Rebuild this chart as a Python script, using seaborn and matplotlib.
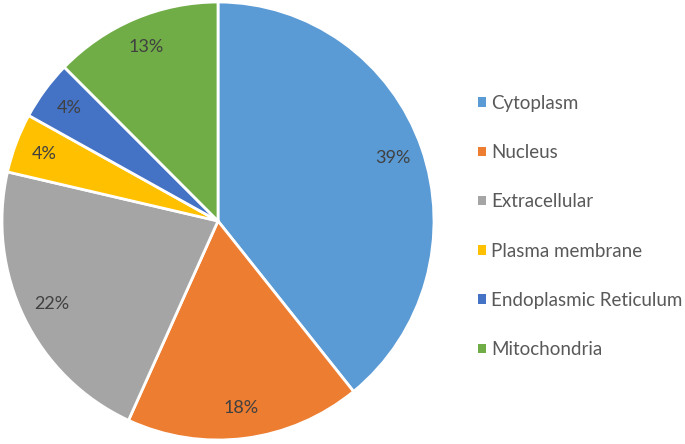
import seaborn as sns
import matplotlib.pyplot as plt
from matplotlib.patches import Patch

locations = ["Cytoplasm", "Nucleus", "Extracellular", "Plasma membrane",
             "Endoplasmic Reticulum", "Mitochondria"]
# shares; labels round them
percent = [39.2, 17.6, 21.8, 4.4, 4.4, 12.6]
colours = ["#5B9BD5", "#ED7D31", "#A5A5A5", "#FFC000", "#4472C4", "#70AD47"]

sns.set_theme(style="white")
plt.rcParams['font.family'] = ['Lato', 'DejaVu Sans']

fig = plt.figure(figsize=(6.85, 4.44), dpi=100)
ax = fig.add_axes([2 / 685, 4 / 444, 432 / 685, 438 / 444])

pal = sns.color_palette(colours)
wedges, texts, autotexts = ax.pie(percent, colors=pal, startangle=90, counterclock=False,
                                  autopct=lambda p: "%d%%" % int(p + 0.5), pctdistance=0.86,
                                  wedgeprops=dict(edgecolor="white", linewidth=2),
                                  textprops=dict(color="#404040", fontsize=13))
ax.set_aspect("auto")
ax.set_xlim(-1.0, 1.0)
ax.set_ylim(-1.0, 1.0)

handles = [Patch(facecolor=c, edgecolor="none") for c in pal]
fig.legend(handles, locations, loc="center left", bbox_to_anchor=(0.698, 0.49),
           frameon=False, fontsize=13.5, labelcolor="#595959",
           borderpad=0, borderaxespad=0,
           handlelength=0.4, handleheight=0.4, handletextpad=0.3,
           labelspacing=1.72)

fig.savefig("out.png", dpi=100)
